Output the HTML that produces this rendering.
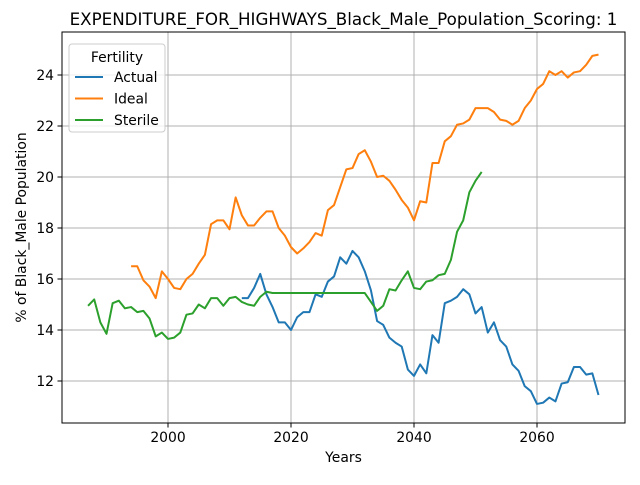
<!DOCTYPE html>
<html><head><meta charset="utf-8"><style>
body{margin:0;background:#fff;font-family:"Liberation Sans","DejaVu Sans",sans-serif}
svg text{font-family:"DejaVu Sans","Liberation Sans",sans-serif}
</style></head><body>
<svg id="chart" width="640" height="480"></svg>
<script>
const greenStart=1987;
const sterile=[14.95,15.2,14.3,13.85,15.05,15.15,14.85,14.9,14.7,14.75,14.45,13.75,13.9,13.65,13.7,13.9,14.6,14.65,15.0,14.85,15.25,15.25,14.95,15.25,15.3,15.1,15.0,14.95,15.3,15.5,15.45,15.45,15.45,15.45,15.45,15.45,15.45,15.45,15.45,15.45,15.45,15.45,15.45,15.45,15.45,15.45,15.1,14.75,14.95,15.6,15.55,15.95,16.3,15.65,15.6,15.9,15.95,16.15,16.2,16.75,17.85,18.3,19.4,19.85,20.2];
const idealStart=1994;
const ideal=[16.5,16.5,15.95,15.7,15.25,16.3,16.0,15.65,15.6,16.0,16.2,16.6,16.95,18.15,18.3,18.3,17.95,19.2,18.5,18.1,18.1,18.4,18.65,18.65,18.0,17.7,17.25,17.0,17.2,17.45,17.8,17.7,18.7,18.9,19.6,20.3,20.35,20.9,21.05,20.6,20.0,20.05,19.85,19.5,19.1,18.8,18.3,19.05,19.0,20.55,20.55,21.4,21.6,22.05,22.1,22.25,22.7,22.7,22.7,22.55,22.25,22.2,22.05,22.2,22.7,23.0,23.45,23.65,24.15,24.0,24.15,23.9,24.1,24.15,24.4,24.75,24.8];
const actualStart=2012;
const actual=[15.25,15.25,15.65,16.2,15.4,14.9,14.3,14.3,14.0,14.5,14.7,14.7,15.4,15.3,15.9,16.1,16.85,16.6,17.1,16.85,16.3,15.55,14.35,14.2,13.7,13.5,13.35,12.45,12.2,12.65,12.3,13.8,13.5,15.05,15.15,15.3,15.6,15.4,14.65,14.9,13.9,14.3,13.6,13.35,12.65,12.4,11.8,11.6,11.1,11.15,11.35,11.2,11.9,11.95,12.55,12.55,12.25,12.3,11.45];
const xTicks=[2000,2020,2040,2060];
const yTicks=[12,14,16,18,20,22,24];

const NS="http://www.w3.org/2000/svg";
const svg=document.getElementById('chart');
const L=62,R=625,T=32,B=423;
const X=y=>168+(y-2000)*6.15;
const Y=v=>381-(v-12)*25.5;
function mk(tag,attrs,parent){const e=document.createElementNS(NS,tag);for(const k in attrs)e.setAttribute(k,attrs[k]);(parent||svg).appendChild(e);return e;}

const grid=mk('g',{});


xTicks.forEach(t=>{
  mk('line',{x1:X(t),x2:X(t),y1:T,y2:B,stroke:'#b0b0b0','stroke-width':1},grid);
  mk('line',{x1:X(t),x2:X(t),y1:B,y2:B+4.5,stroke:'#000','stroke-width':1});
  const tx=mk('text',{x:X(t),y:B+19,'text-anchor':'middle','font-size':13.9});
  tx.textContent=t;
  
  
});
yTicks.forEach(t=>{
  mk('line',{x1:L,x2:R,y1:Y(t),y2:Y(t),stroke:'#b0b0b0','stroke-width':1},grid);
  mk('line',{x1:L-4.5,x2:L,y1:Y(t),y2:Y(t),stroke:'#000','stroke-width':1});
  const tx=mk('text',{x:L-8,y:Y(t)+5,'text-anchor':'end','font-size':13.9});
  tx.textContent=t;
  
  
});
function series(arr,start,color,name){
  const d=arr.map((v,i)=>(i?'L':'M')+X(start+i).toFixed(2)+','+Y(v).toFixed(2)).join('');
  const p=mk('path',{d:d,fill:'none',stroke:color,'stroke-width':2,'stroke-linejoin':'round'});
  
  
}
series(actual,actualStart,'#1f77b4','actual-line');
series(ideal,idealStart,'#ff7f0e','ideal-line');
series(sterile,greenStart,'#2ca02c','sterile-line');
const frame=mk('rect',{x:L,y:T,width:R-L,height:B-T,fill:'none',stroke:'#000','stroke-width':1});


const title=mk('text',{x:(L+R)/2,y:T-7,'text-anchor':'middle','font-size':16.7});
title.textContent='EXPENDITURE_FOR_HIGHWAYS_Black_Male_Population_Scoring: 1';


const xl=mk('text',{x:(L+R)/2,y:462,'text-anchor':'middle','font-size':13.9});
xl.textContent='Years';


const yl=mk('text',{x:0,y:0,'text-anchor':'middle','font-size':13.9,transform:'translate(26,'+((T+B)/2)+') rotate(-90)'});
yl.textContent='% of Black_Male Population';


const lg=mk('g',{});


mk('rect',{x:69,y:44,width:96,height:88,rx:3,fill:'#fff','fill-opacity':0.8,stroke:'#ccc','stroke-width':1},lg);
const lt=mk('text',{x:117,y:62,'text-anchor':'middle','font-size':13.9},lg);
lt.textContent='Fertility';
[['Actual','#1f77b4'],['Ideal','#ff7f0e'],['Sterile','#2ca02c']].forEach((e,i)=>{
  const y=77+i*21.5;
  const g=mk('g',{},lg);
  
  
  mk('line',{x1:75,x2:103,y1:y,y2:y,stroke:e[1],'stroke-width':2},g);
  const t=mk('text',{x:114,y:y+5,'font-size':13.9},g);
  t.textContent=e[0];
});
</script>
</body></html>
